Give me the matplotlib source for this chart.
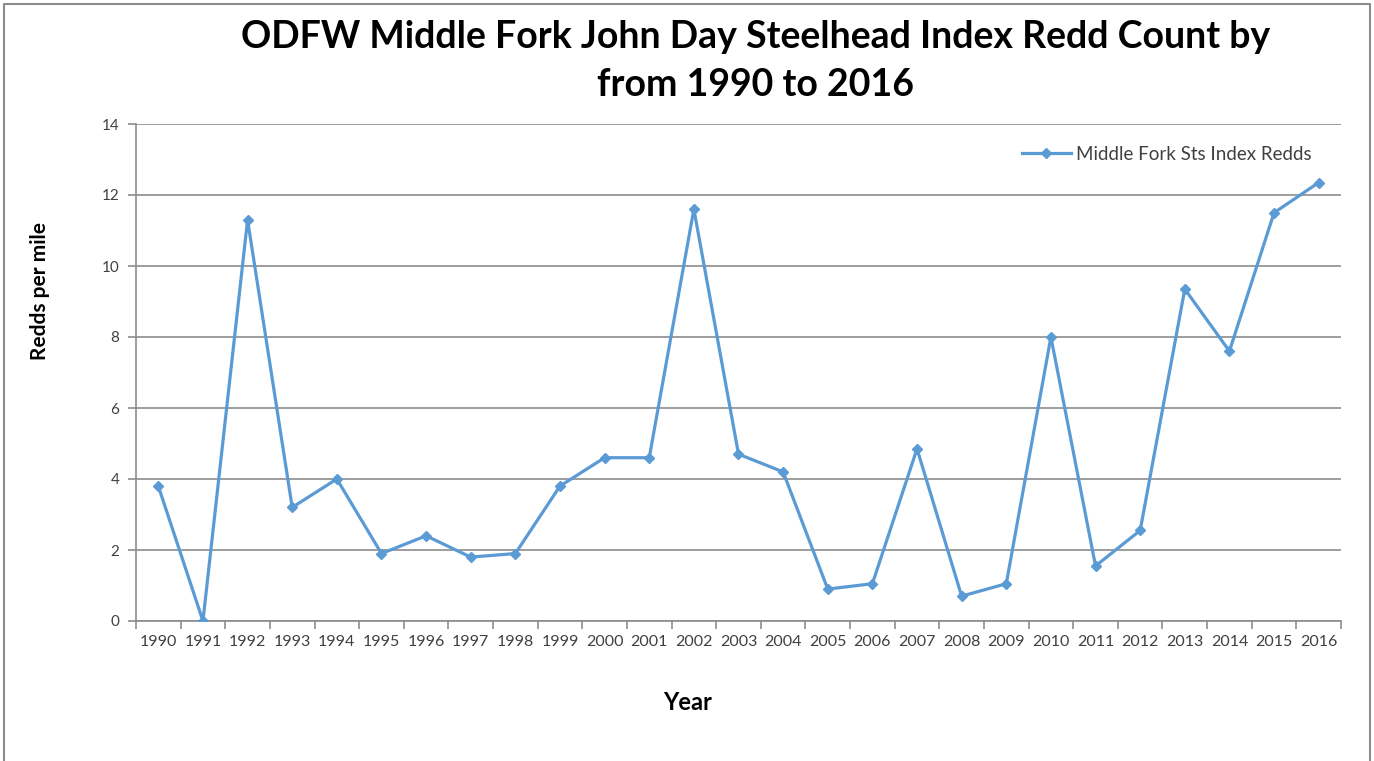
import numpy as np
import matplotlib
matplotlib.use('Agg')
import matplotlib.pyplot as plt
from matplotlib.lines import Line2D

# redds per mile
years = [str(y) for y in range(1990, 2017)]
redds = [3.8, 0.0, 11.3, 3.2, 4.0, 1.9, 2.4, 1.8, 1.9, 3.8,
         4.6, 4.6, 11.6, 4.7, 4.2, 0.9, 1.05, 4.85, 0.7, 1.05,
         8.0, 1.55, 2.55, 9.35, 7.6, 11.5, 12.35]
yticks = [0, 2, 4, 6, 8, 10, 12, 14]

plt.rcParams['font.family'] = ['Lato', 'DejaVu Sans']
blue = '#5B9BD5'
grid = '#8C8C8C'

fig = plt.figure(figsize=(13.74, 7.61), dpi=100)
ax = fig.add_axes([136 / 1374, 1 - 621 / 761, 1205 / 1374, 497 / 761])

x = np.arange(len(years))
ax.plot(x, redds, color=blue, lw=2.3, marker='D', ms=5.5,
        label='Middle Fork Sts Index Redds', zorder=3)

ax.set_xlim(-0.5, len(years) - 0.5)
ax.set_ylim(0, 14)
ax.set_yticks(yticks)
ax.set_yticklabels([str(v) for v in yticks], fontsize=11, color='#404040')
ax.set_xticks(x)
ax.set_xticklabels(years, fontsize=11.5, color='#404040')
ax.set_xticks(np.arange(-0.5, len(years)), minor=True)
ax.tick_params(axis='x', which='major', length=0, pad=10)
ax.tick_params(axis='x', which='minor', length=6, color=grid, width=1.2)
ax.tick_params(axis='y', length=6, color=grid, width=1.2, pad=6)

ax.yaxis.grid(True, color=grid, lw=1.2)
ax.set_axisbelow(True)
for s in ['top', 'right']:
    ax.spines[s].set_visible(False)
for s in ['left', 'bottom']:
    ax.spines[s].set_color(grid)
    ax.spines[s].set_linewidth(1.2)

leg = ax.legend(loc='upper right', bbox_to_anchor=(0.99, 0.99), frameon=False,
                fontsize=13.5, handlelength=2.6, handletextpad=0.3)
for t in leg.get_texts():
    t.set_color('#404040')

fig.text(756 / 1374, 1 - 37 / 761, 'ODFW Middle Fork John Day Steelhead Index Redd Count by',
         ha='center', va='center', fontsize=27, fontweight='bold')
fig.text(756 / 1374, 1 - 85 / 761, 'from 1990 to 2016',
         ha='center', va='center', fontsize=27, fontweight='bold')
fig.text(40 / 1374, 1 - 291 / 761, 'Redds per mile', rotation=90,
         ha='center', va='center', fontsize=15, fontweight='bold')
fig.text(688 / 1374, 1 - 702 / 761, 'Year', ha='center', va='center',
         fontsize=17, fontweight='bold')

# chart frame (bottom edge is cut off in the original)
fig.add_artist(Line2D([4 / 1374, 4 / 1374, 1370 / 1374, 1370 / 1374],
                      [0, 1 - 4 / 761, 1 - 4 / 761, 0],
                      transform=fig.transFigure, color='#8C8C8C', lw=1.5))

fig.savefig('out.png', dpi=100)
